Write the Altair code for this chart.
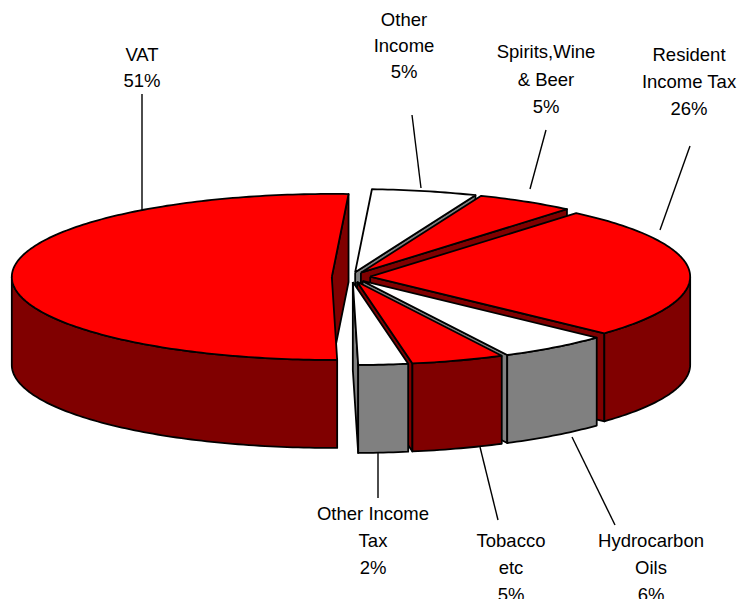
import math
import altair as alt
import pandas as pd

# ---- data (clockwise from the back of the pie) ----
names = ["Other Income", "Spirits,Wine & Beer", "Resident Income Tax",
         "Hydrocarbon Oils", "Tobacco etc", "Other Income Tax", "VAT"]
shares = [5.3, 5.0, 25.8, 5.6, 4.7, 2.5, 51.1]      # estimated slice shares
is_white = [True, False, False, True, False, True, False]

label_text = ["VAT", "51%",
              "Other", "Income", "5%",
              "Spirits,Wine", "& Beer", "5%",
              "Resident", "Income Tax", "26%",
              "Hydrocarbon", "Oils", "6%",
              "Tobacco", "etc", "5%",
              "Other Income", "Tax", "2%"]
label_x = [142, 142, 404, 404, 404, 546, 546, 546, 689, 689, 689,
           651, 651, 651, 511, 511, 511, 373, 373, 373]
label_y = [55, 81, 20, 46, 72, 52, 80, 107, 55, 82, 109,
           541, 568, 595, 541, 568, 595, 514, 541, 568]

leader_x1 = [142, 421, 530, 660, 572, 480, 378]
leader_y1 = [210, 188, 189, 230, 437, 447, 452]
leader_x2 = [142, 412, 546, 690, 615, 498, 378]
leader_y2 = [94, 115, 130, 146, 525, 520, 498]

# ---- 3-D pie projection settings ----
START = 3.0        # degrees, clockwise from the back
CX, CY = 351, 277
RX, RY = 320, 83
DEPTH = 88
EXPLODE = 0.06
W, H = 735, 591

x_scale = alt.Scale(domain=[8, 8 + W], range=[0, W])
y_scale = alt.Scale(domain=[8 + H, 8], range=[H, 0])


def polygon(pts, fill, sw=1.8):
    pts = list(pts) + [pts[0]]
    df = pd.DataFrame({"x": [p[0] for p in pts], "y": [p[1] for p in pts],
                       "i": list(range(len(pts)))})
    return alt.Chart(df).mark_line(
        fill=fill, stroke="black", strokeWidth=sw, strokeJoin="round", clip=False
    ).encode(
        x=alt.X("x:Q", scale=x_scale, axis=None),
        y=alt.Y("y:Q", scale=y_scale, axis=None),
        order="i:Q",
    )


layers = []
slices = []
t = START
for name, s, w in zip(names, shares, is_white):
    t0, t1 = t, t + s * 3.6
    t = t1
    slices.append((name, t0, t1, w))


def rim(ax, ay, deg):
    r = math.radians(deg)
    return (ax + RX * math.sin(r), ay - RY * math.cos(r))


def arc_degrees(a, b):
    n = max(2, int(abs(b - a)) + 1)
    return [a + (b - a) * k / n for k in range(n + 1)]


# VAT sits on its own on the left; draw it first, then clockwise to the front
for name, t0, t1, w in [slices[-1]] + slices[:-1]:
    m = math.radians((t0 + t1) / 2)
    ax = CX + RX * EXPLODE * math.sin(m)
    ay = CY - RY * EXPLODE * math.cos(m)
    top_c = "white" if w else "#ff0000"
    side_c = "#808080" if w else "#800000"
    # cut face at the clockwise end
    e = rim(ax, ay, t1)
    layers.append(polygon([(ax, ay), e, (e[0], e[1] + DEPTH), (ax, ay + DEPTH)], side_c))
    # outer wall where the rim faces the viewer
    a, b = max(t0, 90), min(t1, 270)
    if b > a:
        arc = [rim(ax, ay, d) for d in arc_degrees(a, b)]
        layers.append(polygon(arc + [(p[0], p[1] + DEPTH) for p in reversed(arc)], side_c))
    # top face
    layers.append(polygon([(ax, ay)] + [rim(ax, ay, d) for d in arc_degrees(t0, t1)], top_c))

leaders = alt.Chart(pd.DataFrame({"x": leader_x1, "y": leader_y1,
                                  "x2": leader_x2, "y2": leader_y2})).mark_rule(
    color="black", strokeWidth=1.4
).encode(
    x=alt.X("x:Q", scale=x_scale, axis=None),
    y=alt.Y("y:Q", scale=y_scale, axis=None),
    x2="x2:Q", y2="y2:Q",
)
labels = alt.Chart(pd.DataFrame({"t": label_text, "x": label_x, "y": label_y})).mark_text(
    font="Liberation Sans", fontSize=18.5, color="black", align="center", baseline="middle"
).encode(
    x=alt.X("x:Q", scale=x_scale, axis=None),
    y=alt.Y("y:Q", scale=y_scale, axis=None),
    text="t:N",
)

chart = alt.layer(*layers, leaders, labels).properties(
    width=W, height=H, padding=0, autosize=alt.AutoSizeParams(type="none"),
    background="white",
).configure_view(stroke=None)

chart.save("out.html", embed_options={"renderer": "svg", "actions": False})
